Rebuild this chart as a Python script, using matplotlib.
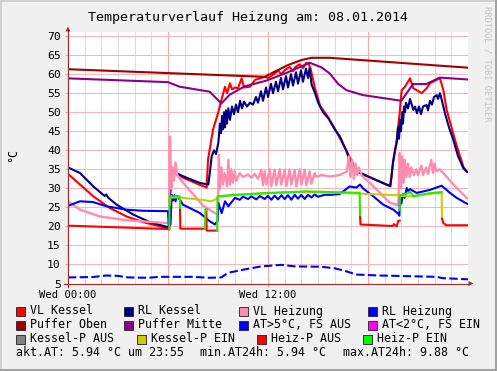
import numpy as np
import matplotlib
matplotlib.use('Agg')
import matplotlib.pyplot as plt
from matplotlib.patches import Rectangle, Polygon
from matplotlib.lines import Line2D

plt.rcParams['font.family'] = ['DejaVu Sans Mono']
nan = np.nan

# ---------------- data (hours of the day, degrees C) ----------------
title = "Temperaturverlauf Heizung am: 08.01.2014"
x_tick_hours = [0, 12]
x_tick_labels = ["Wed 00:00", "Wed 12:00"]
y_ticks = list(range(5, 71, 5))

puffer_oben_t = [0, 11.8, 12.2, 13.2, 14.0, 14.6, 15.7, 24]
puffer_oben_v = [61.3, 59.3, 60.2, 62.4, 63.7, 64.3, 64.3, 61.7]

puffer_mitte_t = [0, 6.0, 6.7, 8.5, 9.2, 9.7, 10.6, 11.9, 13.2, 14.5, 15.2, 15.7, 16.2,
                  16.7, 17.7, 19.7, 20.0, 20.4, 20.7, 21.5, 22.3, 24]
puffer_mitte_v = [58.9, 57.9, 56.7, 55.4, 52.3, 54.6, 56.8, 58.3, 60.5, 63.0, 61.8, 60.2, 57.5,
                  55.8, 54.5, 53.2, 53.0, 55.5, 57.4, 57.4, 59.1, 58.6]

vl_kessel_t = [0, 0.72, 1.52, 2.52, 3.52, 4.52, 5.9, 6.08, 6.2, 6.3, 7.0, 7.92, 8.32, 8.4, 8.7,
               9.02, 9.22, 9.42, 9.54, 9.72, 9.84, 10.02, 10.2, 10.42, 10.56, 10.92, 11.22,
               11.82, 12.0, 12.42, 12.6, 12.8, 13.02, 13.3, 13.5, 13.62, 13.9, 14.1, 14.3, 14.42,
               14.55, 14.82, 15.12, 15.62, 16.02, 16.72, 17.32, 19.35, 19.45, 19.72, 19.88,
               20.02, 20.22, 20.52, 20.72, 20.92, 21.22, 21.52, 21.72, 22.12, 22.32, 22.52,
               22.72, 23.22, 23.72, 23.92, 24]
vl_kessel_v = [33.8, 31.0, 27.9, 24.8, 22.6, 21.1, 19.6, 19.2, 34.6, 34.2, 32.6, 30.9, 30.2, 37.5, 45.4,
               50.0, 53.5, 56.7, 55.0, 57.6, 56.0, 56.5, 56.3, 58.9, 56.5, 56.7, 58.5,
               59.3, 59.0, 60.2, 61.0, 60.0, 61.1, 61.9, 60.8, 61.8, 62.6, 61.6, 63.0, 62.8,
               61.5, 56.3, 51.8, 48.6, 45.6, 39.8, 34.5, 30.5, 35.0, 42.7, 48.9,
               55.8, 56.7, 58.9, 56.3, 55.8, 55.0, 56.3, 57.6, 58.5, 58.9, 55.8,
               50.6, 42.7, 35.7, 34.4, 34.3]

rl_kessel_t = [0, 0.72, 1.52, 2.2, 2.3, 2.4, 2.92, 3.92, 4.92, 5.92, 6.05, 6.15, 6.3, 7.0, 7.92,
               8.42, 8.52, 8.62, 8.76, 8.88, 9.02, 9.12, 9.18, 9.24, 9.30, 9.36, 9.42, 9.48, 9.54,
               9.62, 9.72, 9.84, 9.96, 10.08, 10.2, 10.32, 10.44, 10.56, 10.74, 10.92, 11.1,
               11.28, 11.4, 11.58, 11.7, 11.88, 12.0, 12.18, 12.3, 12.48, 12.6, 12.78, 12.9,
               13.08, 13.2, 13.38, 13.5, 13.68, 13.8, 13.98, 14.1, 14.28, 14.4, 14.49, 14.62,
               14.82, 15.02, 15.3, 15.62, 16.02, 16.32, 16.72, 16.92, 17.32, 19.32,
               19.41, 19.5, 19.62, 19.72, 19.8, 19.86, 19.92, 19.98, 20.04, 20.1, 20.16, 20.22,
               20.28, 20.4, 20.52, 20.72, 20.82, 20.94, 21.06, 21.18, 21.3, 21.52, 21.6, 21.72,
               21.84, 21.96, 22.12, 22.2, 22.32, 22.44, 22.62, 22.86, 23.12, 23.4, 23.72, 23.92, 24]
rl_kessel_v = [35.5, 34.0, 30.5, 28.0, 28.4, 27.6, 25.7, 23.1, 21.1, 19.9, 19.6, 34.6, 34.4, 33.0, 31.4,
               31.0, 34.5, 38.4, 40.0, 39.0, 42.0, 47.0, 44.5, 49.0, 45.5, 50.0, 46.0, 50.5, 47.0,
               51.0, 48.0, 51.5, 49.5, 52.0, 50.0, 53.0, 51.0, 52.8, 51.5, 52.5, 52.0,
               54.0, 52.5, 55.5, 53.0, 56.5, 54.0, 57.5, 55.0, 58.0, 55.5, 59.0, 56.0,
               59.5, 56.5, 60.0, 57.0, 60.5, 57.5, 61.0, 58.0, 61.5, 59.0, 61.5, 57.2,
               55.0, 52.4, 50.0, 48.4, 45.4, 43.6, 39.6, 37.0, 34.4, 30.6,
               33.0, 37.0, 40.0, 41.9, 46.0, 43.0, 48.0, 45.0, 50.0, 47.0, 51.5, 50.0,
               52.5, 51.0, 53.5, 50.6, 51.5, 49.7, 51.5, 49.5, 51.5, 51.9, 50.5, 53.0,
               52.0, 54.0, 54.5, 53.5, 55.0, 53.0, 49.7, 46.0, 42.7, 38.5, 35.3, 34.4, 34.3]

vl_heizung_t = [0, 0.72, 1.92, 3.52, 5.92, 6.05, 6.12, 6.2, 6.28, 6.36, 6.45, 6.55, 6.9, 7.5, 8.1,
                8.7, 8.95, 9.0, 9.05, 9.12, 9.2, 9.3, 9.4, 9.55, 9.62, 9.72, 9.8, 9.9, 10.0, 10.1,
                10.3, 10.5, 10.8, 11.0, 11.2, 11.4, 11.6, 11.7, 11.8, 11.9, 12.1, 12.2, 12.4,
                12.5, 12.7, 12.8, 13.0, 13.1, 13.3, 13.4, 13.6, 13.7, 13.9, 14.0, 14.2, 14.3,
                14.5, 14.6, 14.8, 14.9, 15.2, 15.72, 16.3, 16.72, 16.85, 16.95, 17.05, 17.15,
                17.25, 17.35, 17.45, 17.6, 18.12, 18.72, 19.32, 19.72, 19.82, 19.9, 19.98,
                20.05, 20.12, 20.2, 20.3, 20.4, 20.5, 20.6, 20.75, 20.9, 21.0, 21.2, 21.3,
                21.5, 21.6, 21.8, 21.9, 22.0, 22.1, 22.3, 22.52, 23.32, 23.92, 24]
vl_heizung_v = [26.6, 24.4, 22.6, 21.6, 20.9, 21.0, 43.6, 30.0, 35.5, 32.0, 36.8, 33.5, 31.5, 28.5, 25.5,
                23.8, 23.2, 23.0, 38.8, 30.0, 35.5, 31.0, 34.0, 30.5, 37.5, 31.0, 35.0, 31.5, 34.5, 32.0,
                34.0, 33.0, 33.6, 32.8, 33.8, 32.5, 34.8, 30.8, 34.5, 31.0, 35.0, 30.6, 34.9,
                30.8, 35.0, 31.0, 34.8, 30.6, 35.0, 31.0, 34.8, 30.5, 35.0, 31.0, 34.9, 30.8,
                34.5, 31.2, 34.0, 33.0, 33.5, 33.1, 33.5, 34.4, 38.4, 33.0, 37.5, 32.5,
                36.5, 33.5, 35.5, 33.5, 31.4, 28.8, 26.2, 25.7, 25.5, 39.3, 30.0,
                38.4, 31.5, 37.5, 33.0, 36.5, 33.0, 35.5, 33.5, 35.0, 33.5, 36.0, 33.5,
                35.5, 33.8, 37.5, 34.0, 36.5, 34.5, 35.0, 34.0, 30.1, 27.5, 27.3]

rl_heizung_t = [0, 0.72, 1.5, 2.3, 3.5, 4.5, 6.0, 6.05, 6.15, 6.22, 6.3, 6.38, 6.45, 6.55, 6.62,
                6.9, 7.92, 8.52, 8.82, 8.98, 9.02, 9.22, 9.42, 9.62, 10.02, 10.3, 10.5, 10.8,
                11.0, 11.3, 11.5, 11.8, 12.0, 12.2, 12.4, 12.6, 12.8, 13.0, 13.2, 13.4, 13.6,
                13.8, 14.0, 14.2, 14.4, 14.6, 14.8, 15.0, 15.4, 15.8, 16.3, 16.9, 17.3, 17.52,
                17.7, 18.32, 18.92, 19.52, 19.82, 19.88, 19.92, 20.0, 20.1, 20.2, 20.32, 20.42,
                20.52, 20.92, 21.72, 22.42, 22.92, 23.32, 23.92, 24]
rl_heizung_v = [25.4, 26.6, 26.4, 25.3, 24.4, 24.1, 24.0, 20.0, 20.5, 28.3, 26.8, 28.2, 26.6, 28.0, 27.6,
                25.7, 23.5, 21.3, 20.5, 21.5, 26.2, 23.5, 26.6, 25.3, 27.5, 27.0, 27.8, 27.2,
                27.9, 27.1, 28.0, 27.2, 28.0, 27.0, 28.1, 27.1, 28.2, 27.2, 28.2, 27.0, 28.3,
                27.3, 28.3, 27.2, 28.3, 27.6, 28.4, 27.8, 28.3, 28.3, 28.5, 30.5, 30.2, 31.0,
                30.0, 27.9, 25.7, 24.4, 23.3, 22.8, 27.9, 26.0, 28.5, 27.5, 30.1, 29.2,
                29.8, 28.8, 29.6, 30.7, 28.8, 27.5, 26.0, 25.9]

at_fs_aus_t = [0, 1.5, 2.3, 3.0, 3.6, 4.8, 5.5, 7.5, 8.5, 9.2, 9.6, 10.6, 11.6, 12.8, 13.6,
               15.2, 16.0, 16.7, 17.3, 18.7, 20.7, 22.1, 22.5, 24]
at_fs_aus_v = [6.6, 6.7, 7.1, 7.0, 6.6, 6.5, 6.75, 6.75, 6.5, 6.6, 7.8, 8.7, 9.5, 9.9, 9.5,
               9.4, 9.0, 8.2, 7.35, 7.1, 6.9, 6.75, 6.4, 6.1]

kessel_p_ein_t = [6.12, 6.15, 6.72, 7.5, 8.0, 8.6, 8.9, 9.02, 10.0, 12.0, 14.3, 16.0, 17.52,
                  19.72, 19.9, 20.5, 20.72, 21.5, 22.32, 22.42, 22.44]
kessel_p_ein_v = [25.8, 27.6, 27.6, 27.2, 27.0, 26.6, 27.2, 27.8, 28.2, 28.7, 29.1, 28.9, 28.6,
                  28.2, 28.0, 27.9, 27.9, 28.5, 28.8, 28.8, 22.0]

heiz_p_aus_t = [0, 6.08, nan, 6.72, 6.74, 8.2, 8.22, nan, 8.3, 8.32, 8.9, 8.95, nan,
                17.52, 17.55, 19.5, 19.55, 19.72, 19.82, 19.9, nan, 22.44, 22.52, 22.7, 24]
heiz_p_aus_v = [20.2, 19.3, nan, 24.9, 19.4, 19.4, 19.4, nan, 24.4, 18.9, 18.9, 18.9, nan,
                23.0, 20.5, 20.1, 20.6, 20.0, 21.5, 21.5, nan, 22.0, 20.9, 20.3, 20.3]

heiz_p_ein_t = [6.08, 6.1, 6.7, 6.72, nan, 8.22, 8.24, 8.3, nan, 8.95, 8.97, 10.0, 12.0,
                14.3, 16.0, 17.5, 17.52, nan, 19.9, 19.92, 20.0, 20.4, 20.52, 20.72, 21.5,
                22.32, 22.42]
heiz_p_ein_v = [19.3, 27.9, 27.9, 24.9, nan, 19.4, 24.4, 24.4, nan, 18.9, 27.9, 28.3, 28.8,
                29.2, 29.0, 28.8, 23.0, nan, 24.4, 28.3, 28.3, 28.7, 29.2, 27.9, 28.6,
                29.0, 29.0]

legend_rows = [
    [("VL Kessel", "#FF0000"), ("RL Kessel", "#000080"), ("VL Heizung", "#FF8CB0"), ("RL Heizung", "#0000FF")],
    [("Puffer Oben", "#A00000"), ("Puffer Mitte", "#8B008B"), ("AT>5°C, FS AUS", "#0000FF"), ("AT<2°C, FS EIN", "#FF00FF")],
    [("Kessel-P AUS", "#808080"), ("Kessel-P EIN", "#CCCC00"), ("Heiz-P AUS", "#FF0000"), ("Heiz-P EIN", "#00FF00")],
]
summary_parts = ["akt.AT: 5.94 °C um 23:55", "min.AT24h: 5.94 °C", "max.AT24h: 9.88 °C"]
watermark = "RRDTOOL / TOBI OETIKER"

# ---------------- layout ----------------
W, H = 497, 371
fig = plt.figure(figsize=(W / 100, H / 100), dpi=100)
fig.patch.set_facecolor('#F0F0F0')

def fx(x):
    return x / W

def fy(y):
    return 1 - y / H

ax_l, ax_r, ax_t, ax_b = 68, 468, 32.3, 283.5
ax = fig.add_axes([fx(ax_l), fy(ax_b), (ax_r - ax_l) / W, (ax_b - ax_t) / H])
ax.set_facecolor('white')
ax.set_xlim(0, 24)
ax.set_ylim(5, 71)
for s in ax.spines.values():
    s.set_visible(False)

# grid
for h in range(1, 24):
    if h % 6:
        ax.axvline(h, color='#DEDEDE', lw=0.75, zorder=0)
for h in range(0, 24, 6):
    ax.axvline(h, color='#F4A8A8', lw=0.75, zorder=0.5)
for v in y_ticks[1:]:
    ax.axhline(v, color='#F4B8B8', lw=0.75, zorder=0.5)

ax.set_yticks(y_ticks)
ax.set_xticks(x_tick_hours)
ax.set_xticklabels(x_tick_labels)
ax.tick_params(axis='y', length=2, width=0.75, color='#E8A0A0', pad=3.2, labelsize=8.2)
ax.tick_params(axis='x', length=2, width=0.75, color='#E8A0A0', pad=2.5, labelsize=7.6)

lw = 1.5
ax.plot(vl_kessel_t, vl_kessel_v, color='#FF0000', lw=lw, zorder=2)
ax.plot(rl_kessel_t, rl_kessel_v, color='#000080', lw=lw, zorder=2.1)
ax.plot(vl_heizung_t, vl_heizung_v, color='#FF8CB0', lw=1.7, zorder=2.2)
ax.plot(rl_heizung_t, rl_heizung_v, color='#0000FF', lw=lw, zorder=2.3)
ax.plot(puffer_oben_t, puffer_oben_v, color='#A00000', lw=lw, zorder=2.4)
ax.plot(puffer_mitte_t, puffer_mitte_v, color='#8B008B', lw=lw, zorder=2.5)
ax.plot(at_fs_aus_t, at_fs_aus_v, color='#0000FF', lw=lw, ls=(0, (4, 1.6)), zorder=2.6)
ax.plot(kessel_p_ein_t, kessel_p_ein_v, color='#CCCC00', lw=lw, zorder=2.7)
ax.plot(heiz_p_aus_t, heiz_p_aus_v, color='#FF0000', lw=lw, zorder=2.8)
ax.plot(heiz_p_ein_t, heiz_p_ein_v, color='#22EE00', lw=lw, zorder=2.9)

# axes with arrows
axis_col = '#993333'
fig.add_artist(Line2D([fx(64), fx(470)], [fy(ax_b), fy(ax_b)], color=axis_col, lw=0.9))
fig.add_artist(Line2D([fx(ax_l), fx(ax_l)], [fy(287), fy(30)], color=axis_col, lw=0.9))
fig.add_artist(Polygon([[fx(468.5), fy(ax_b - 2.5)], [fx(473.5), fy(ax_b)], [fx(468.5), fy(ax_b + 2.5)]],
                       closed=True, color=axis_col, lw=0))
fig.add_artist(Polygon([[fx(ax_l - 2.5), fy(31.5)], [fx(ax_l), fy(26.5)], [fx(ax_l + 2.5), fy(31.5)]],
                       closed=True, color=axis_col, lw=0))

# texts
fig.text(fx(248.5), fy(17), title, ha='center', va='center', fontsize=9.6, color='black')
fig.text(fx(13), fy(155), "°C", ha='center', va='center', rotation=90, fontsize=8.4)
fig.text(fx(487), fy(6), watermark, ha='center', va='top', rotation=-90, fontsize=6.3, color='#C4C4C4')

# legend
box_x = [[16, 124, 239, 368], [16, 124, 239, 368], [16, 137, 257, 363]]
row_y = [311, 325, 339]
for r, row in enumerate(legend_rows):
    for c, (lab, col) in enumerate(row):
        bx = box_x[r][c]
        yc = row_y[r]
        fig.add_artist(Rectangle((fx(bx), fy(yc + 4.5)), 9 / W, 9 / H, facecolor=col,
                                 edgecolor='#202020', lw=0.6))
        fig.text(fx(bx + 14), fy(yc), lab, ha='left', va='center', fontsize=8.4)
for xx, txt in zip([16, 200, 342.7], summary_parts):
    fig.text(fx(xx), fy(353), txt, ha='left', va='center', fontsize=8.4)

# 3D frame
fig.add_artist(Line2D([0, 1], [fy(0.5), fy(0.5)], color='#D0D0D0', lw=1.4))
fig.add_artist(Line2D([fx(0.5), fx(0.5)], [0, 1], color='#D0D0D0', lw=1.4))
fig.add_artist(Line2D([0, 1], [fy(370), fy(370)], color='#A0A0A0', lw=1.4))
fig.add_artist(Line2D([fx(496), fx(496)], [0, 1], color='#A0A0A0', lw=1.4))

fig.savefig('out.png', dpi=100, facecolor=fig.get_facecolor())
